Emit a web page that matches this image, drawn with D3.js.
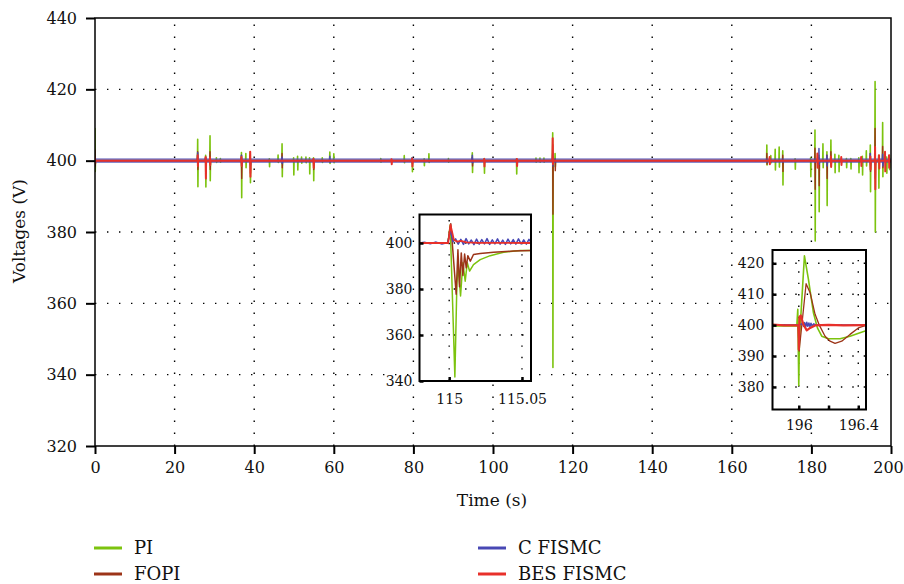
<!DOCTYPE html>
<html><head><meta charset="utf-8">
<script src="https://cdn.jsdelivr.net/npm/d3@7"></script>
<style>
body{margin:0;background:#fff}
svg{display:block}
text{font-family:"DejaVu Serif",serif;fill:#111}
</style>
</head><body>
<svg id="c" width="904" height="584"></svg>
<script>
// ---------- data ----------
const seriesNames = ["PI", "FOPI", "C FISMC", "BES FISMC"];
const timeTicks = [0, 20, 40, 60, 80, 100, 120, 140, 160, 180, 200];
const voltTicks = [320, 340, 360, 380, 400, 420, 440];
const referenceVoltage = 400;

// main chart: transient spikes [time, high, low] around the 400 V reference
const piSpikes = [
  [0,409,397],[25.8,406,392.7],[27.8,401.5,392.6],[28.9,407,394.4],[30.5,400.8,399.5],[31.5,400.6,399.6],
  [36.8,402.3,389.6],[37.9,402,398],[39,402.5,393.8],[43.8,400.5,398.3],[46,401.6,399.5],[47,404.7,395.5],
  [49.9,400.8,396],[50.9,401.2,397.4],[51.9,401,399.3],[53,401,399.4],[53.9,400.8,396.3],[54.9,400.8,394.4],
  [57.1,400.8,399.5],[59,402.4,399.2],[60,401.9,399.4],[71.8,400.6,399.6],[77.7,401.4,399.4],[79.7,400.8,396.9],
  [82.7,400.5,398.6],[83.9,401.9,399.5],[88.8,400.6,399.6],[94.8,402.2,396.7],[97.8,400.6,396.5],[105.9,400.5,396.3],
  [110.8,400.7,399.6],[111.8,400.7,399.6],[112.8,400.7,399.6],[115,407.8,342],[115.6,402,398.3],
  [168.8,404.4,398.8],[169.8,401.4,399.4],[170.9,403.2,397.4],[171.9,403.8,398.2],[172.8,402.8,393.2],
  [175.9,400.5,397.6],[179.8,400.8,395.5],[180.9,408.6,377.5],[181.9,401.5,385.7],[182.9,404.7,398],
  [183.9,402.5,387.4],[184.9,405.8,398.5],[185.9,401.8,396.6],[186.9,401.5,396.9],[188.8,400.6,398],
  [189.9,400.6,397.7],[191.9,400.8,396.6],[192.8,401.2,396],[193.8,402.8,398.5],[194.8,404.4,391.3],
  [196,422.2,380],[196.9,401.5,392.3],[197.9,410.7,395.5],[198.9,401,396.5],[199.6,401.5,397.5]
];
const fopiSpikes = [
  [0,403,398.5],[25.8,402.5,397.5],[27.8,401,396.5],[28.9,402.5,397.5],[36.8,401.5,395],[39,401.5,396.5],[47,402,398],
  [54.9,400.5,397.5],[94.8,401,398.5],[115,404.5,385],[115.6,400.5,397.2],[168.8,402,399],[172.8,401.5,397],
  [180.9,403.5,392],[181.9,400.8,393],[183.9,401.5,395],[184.9,402.5,399],[194.8,402,397],[196,409,395],
  [197.9,404,398]
];
const cfismcSpikes = [
  [25.8,402.2,399],[27.8,400.8,398.2],[36.8,401.5,399],[39,401,398.8],[47,401,399.2],[59,401.2,399.5],
  [79.7,400.9,399.3],[94.8,401.5,399.4],[115,402,398.5],[181.9,403.4,399],[183.9,401.5,398.5],
  [194.8,402,398.8],[196,401.5,398.8],[197.9,401.8,398.5]
];
const besSpikes = [
  [0,400.8,399.2],[25.8,401.5,398.5],[27.8,401,395],[28.9,400.9,398.8],[36.8,401,398.5],[39,402.5,395.5],
  [54.9,400.5,398],[74.5,400.4,399],[79.7,400.6,398.4],[97.8,400.5,398.4],[106,400.5,398.5],[115,406.3,399],
  [169.5,401,399],[181.5,402,398],[184.9,401.2,398.2],[187.5,401,398.8],[192.5,401,398.5],[194.8,401.2,397.5],
  [196,403.8,392],[197,401.5,397.8],[198.5,402.5,397],[199.5,401.5,398]
];

// inset 1 (around t = 115 s): [time, voltage]
const inset1TimeTicks = [115, 115.05];
const inset1VoltTicks = [340, 360, 380, 400];
const inset1PI = [[114.9796,400],[114.9991,400],[115.0007,407.9],[115.0039,341.7],[115.0053,382.7],[115.0062,389.9],
  [115.0078,377.0],[115.0094,391.4],[115.0110,383.4],[115.0124,391.4],[115.0140,387.8],[115.0167,390.6],
  [115.0213,392.8],[115.0282,394.5],[115.0374,396.0],[115.0489,396.7],[115.0562,396.8]];
const inset1FOPI = [[114.9796,400],[114.9991,400],[115.0011,408.4],[115.0048,377.7],[115.0060,397.1],[115.0071,381.0],
  [115.0083,395.7],[115.0094,385.9],[115.0106,395.2],[115.0117,389.2],[115.0128,394.5],[115.0145,392.1],
  [115.0167,395.0],[115.0213,395.4],[115.0305,396.0],[115.0443,396.5],[115.0562,396.8]];
const inset1CFISMC = [[114.9796,400],[114.9830,400.3],[114.9870,399.7],[114.9910,400.4],[114.9950,399.6],[114.9990,400.2],
  [115.0008,405.5],[115.0026,400.5],[115.0044,401.8],[115.0062,399.5],[115.0080,401.6],[115.0098,399.4],
  [115.0116,401.9],[115.0134,399.6],[115.0152,401.3],[115.0170,399.3],[115.0188,401.7],[115.0206,399.5],
  [115.0224,401.5],[115.0242,399.6],[115.0260,401.9],[115.0278,399.4],[115.0296,401.4],[115.0314,399.6],
  [115.0332,401.8],[115.0350,399.5],[115.0368,401.3],[115.0386,399.4],[115.0404,401.7],[115.0422,399.6],
  [115.0440,401.5],[115.0458,399.5],[115.0476,401.8],[115.0494,399.6],[115.0512,401.4],[115.0530,399.5],
  [115.0548,401.6],[115.0562,400.3]];
const inset1BES = [[114.9796,400],[114.9993,400],[115.0009,407.9],[115.0032,401.4],[115.0055,400.6],[115.0080,400.9],
  [115.0120,400.3],[115.0200,400.1],[115.0562,400]];

// inset 2 (around t = 196 s)
const inset2TimeTicks = [196, 196.2, 196.4];
const inset2TimeLabels = [196, 196.4];
const inset2VoltTicks = [380, 390, 400, 410, 420];
const inset2PI = [[195.8233,399.7],[195.9866,399.7],[195.9933,405.1],[196.0000,380.5],[196.0040,395.0],[196.0380,422.4],
  [196.0649,414.8],[196.0984,404.0],[196.1253,399.1],[196.1543,396.4],[196.1990,395.6],[196.2774,395.6],
  [196.3445,396.4],[196.4116,397.5],[196.4519,398.2]];
const inset2FOPI = [[195.8233,400],[195.9955,400],[196.0022,391.6],[196.0492,413.4],[196.0761,410.5],[196.1096,403.5],
  [196.1387,399.9],[196.1767,396.4],[196.2103,394.8],[196.2438,394.1],[196.2886,394.8],[196.3445,397.0],
  [196.4004,399.1],[196.4519,399.9]];
const inset2CFISMC = [[195.8233,400],[196.0000,400],[196.0250,400.5],[196.0330,399.6],[196.0400,400.8],[196.0470,399.5],
  [196.0540,400.9],[196.0610,399.6],[196.0680,400.7],[196.0750,399.5],[196.0820,400.6],[196.0900,399.7],
  [196.1000,400.4],[196.1200,400.0],[196.4519,400.0]];
const inset2BES = [[195.8233,400.2],[195.9000,399.9],[195.9978,400],[196.0000,392.1],[196.0045,402.7],[196.0134,403.1],
  [196.0313,400.2],[196.0537,398.3],[196.0761,399.1],[196.1096,399.9],[196.2000,400.1],[196.3000,399.9],[196.4519,400]];

// ---------- drawing ----------
const colors = {"PI":"#7cc30e","FOPI":"#9c3418","C FISMC":"#4848b4","BES FISMC":"#e8302a"};
const svg = d3.select("#c");
const M = {l:95, r:891, t:18, b:446};
const x = d3.scaleLinear().domain([0,200]).range([M.l, M.r]);
const y = d3.scaleLinear().domain([320,440]).range([M.b, M.t]);

const defs = svg.append("defs");
defs.append("clipPath").attr("id","clipMain").append("rect")
  .attr("x",M.l).attr("y",M.t).attr("width",M.r-M.l).attr("height",M.b-M.t);

// dotted grid
const grid = svg.append("g");
timeTicks.slice(1,-1).forEach(t=>{
  grid.append("line").attr("x1",x(t)).attr("x2",x(t)).attr("y1",M.b).attr("y2",M.t)
    .attr("stroke","#000").attr("stroke-width",1.4).attr("stroke-dasharray","1.4,10.6");
});
voltTicks.slice(1,-1).forEach(v=>{
  grid.append("line").attr("x1",M.l).attr("x2",M.r).attr("y1",y(v)).attr("y2",y(v))
    .attr("stroke","#000").attr("stroke-width",1.4).attr("stroke-dasharray","1.4,10.6");
});

function spikePoints(spikes){
  const pts=[[-1,referenceVoltage]];
  spikes.forEach(([t,hi,lo])=>{ pts.push([t-0.06,referenceVoltage],[t,hi],[t+0.06,lo],[t+0.12,referenceVoltage]); });
  pts.push([201,referenceVoltage]);
  return pts;
}
const mainLine = d3.line().x(d=>x(d[0])).y(d=>y(d[1]));
const mainG = svg.append("g").attr("clip-path","url(#clipMain)");
const mainSeries = [
  {name:"PI", data:piSpikes, w:1.6, o:1},
  {name:"FOPI", data:fopiSpikes, w:1.4, o:1},
  {name:"C FISMC", data:cfismcSpikes, w:1.6, o:0.9},
  {name:"BES FISMC", data:besSpikes, w:2.0, o:1}
];
mainSeries.forEach(s=>{
  if (s.name === "C FISMC") {
    // the C FISMC ripple forms a light band around the reference
    mainG.append("path").attr("d", mainLine([[0,referenceVoltage],[200,referenceVoltage]]))
      .attr("fill","none").attr("stroke",colors[s.name]).attr("stroke-width",4.6).attr("stroke-opacity",0.65);
  }
  mainG.append("path").attr("d", mainLine(spikePoints(s.data)))
    .attr("fill","none").attr("stroke",colors[s.name]).attr("stroke-width",s.w)
    .attr("stroke-opacity",s.o).attr("stroke-linejoin","round");
});

// axes
const xAxis = svg.append("g").attr("transform",`translate(0,${M.b})`)
  .call(d3.axisBottom(x).tickValues(timeTicks).tickSize(8).tickPadding(8).tickFormat(d3.format("d")));
const yAxis = svg.append("g").attr("transform",`translate(${M.l},0)`)
  .call(d3.axisLeft(y).tickValues(voltTicks).tickSize(9).tickPadding(9).tickFormat(d3.format("d")));
[xAxis,yAxis].forEach(a=>{
  a.select(".domain").remove();
  a.selectAll(".tick line").attr("stroke","#000").attr("stroke-width",2);
  a.selectAll("text").attr("font-size",16).attr("font-family","DejaVu Serif").attr("fill","#111");
});
xAxis.selectAll(".tick text").filter(d=>d===200).attr("dx",-3);
// frame
svg.append("rect").attr("x",M.l).attr("y",M.t).attr("width",M.r-M.l).attr("height",M.b-M.t)
  .attr("fill","none").attr("stroke","#000").attr("stroke-width",1.5);

// titles
svg.append("text").attr("x",492).attr("y",506).attr("text-anchor","middle").attr("font-size",17).text("Time (s)");
svg.append("text").attr("transform","translate(25,231) rotate(-90)").attr("text-anchor","middle")
  .attr("font-size",17).text("Voltages (V)");

// insets
function drawInset(cfg){
  const g = svg.append("g");
  const xi = d3.scaleLinear().domain(cfg.xd).range([cfg.x0,cfg.x1]);
  const yi = d3.scaleLinear().domain(cfg.yd).range([cfg.y1,cfg.y0]);
  const id = "clip"+cfg.id;
  defs.append("clipPath").attr("id",id).append("rect")
    .attr("x",cfg.x0).attr("y",cfg.y0).attr("width",cfg.x1-cfg.x0).attr("height",cfg.y1-cfg.y0);
  g.append("rect").attr("x",cfg.x0).attr("y",cfg.y0).attr("width",cfg.x1-cfg.x0).attr("height",cfg.y1-cfg.y0)
    .attr("fill","#fff");
  cfg.xt.forEach(t=>{
    g.append("line").attr("x1",xi(t)).attr("x2",xi(t)).attr("y1",cfg.y1).attr("y2",cfg.y0)
      .attr("stroke","#000").attr("stroke-width",1.4).attr("stroke-dasharray","1.4,10");
  });
  cfg.yt.forEach(v=>{
    g.append("line").attr("x1",cfg.x0).attr("x2",cfg.x1).attr("y1",yi(v)).attr("y2",yi(v))
      .attr("stroke","#000").attr("stroke-width",1.4).attr("stroke-dasharray","1.4,10");
  });
  const ln = d3.line().x(d=>xi(d[0])).y(d=>yi(d[1]));
  const lg = g.append("g").attr("clip-path",`url(#${id})`);
  cfg.series.forEach(s=>{
    lg.append("path").attr("d",ln(s.data)).attr("fill","none").attr("stroke",colors[s.name])
      .attr("stroke-width",s.w).attr("stroke-linejoin","round");
  });
  g.append("rect").attr("x",cfg.x0).attr("y",cfg.y0).attr("width",cfg.x1-cfg.x0).attr("height",cfg.y1-cfg.y0)
    .attr("fill","none").attr("stroke","#000").attr("stroke-width",2);
  const ax = g.append("g").attr("transform",`translate(0,${cfg.y1})`)
    .call(d3.axisBottom(xi).tickValues(cfg.xt).tickSizeInner(-4).tickSizeOuter(0).tickPadding(cfg.xpad)
      .tickFormat(d=>cfg.xl.includes(d)?String(d):""));
  const ay = g.append("g").attr("transform",`translate(${cfg.x0},0)`)
    .call(d3.axisLeft(yi).tickValues(cfg.yt).tickSizeInner(-4).tickSizeOuter(0).tickPadding(cfg.ypad)
      .tickFormat(d3.format("d")));
  [ax,ay].forEach(a=>{
    a.select(".domain").remove();
    a.selectAll(".tick line").attr("stroke","#000").attr("stroke-width",2.5);
    a.selectAll("text").attr("font-size",14).attr("font-family","DejaVu Serif").attr("fill","#111");
  });
}
drawInset({id:"i1", x0:419.5, x1:531, y0:214.5, y1:381, xd:[114.9796,115.0562], yd:[340,412.4],
  xt:inset1TimeTicks, xl:inset1TimeTicks, yt:inset1VoltTicks, xpad:13, ypad:7,
  series:[{name:"PI",data:inset1PI,w:1.5},{name:"FOPI",data:inset1FOPI,w:1.5},
          {name:"C FISMC",data:inset1CFISMC,w:1.5},{name:"BES FISMC",data:inset1BES,w:1.8}]});
drawInset({id:"i2", x0:772.5, x1:866, y0:250, y1:409.5, xd:[195.8233,196.4519], yd:[372.7,424.3],
  xt:inset2TimeTicks, xl:inset2TimeLabels, yt:inset2VoltTicks, xpad:10.5, ypad:8,
  series:[{name:"PI",data:inset2PI,w:1.6},{name:"FOPI",data:inset2FOPI,w:1.3},
          {name:"C FISMC",data:inset2CFISMC,w:1.5},{name:"BES FISMC",data:inset2BES,w:2.2}]});

// legend
const legendPos = [[94,548],[94,574],[478,548],[478,574]];
seriesNames.forEach((n,i)=>{
  const [lx,ly] = legendPos[i];
  svg.append("line").attr("x1",lx).attr("x2",lx+28).attr("y1",ly).attr("y2",ly)
    .attr("stroke",colors[n]).attr("stroke-width",3);
  svg.append("text").attr("x",lx+40).attr("y",ly+6).attr("font-size",18).text(n);
});
</script>
</body></html>
